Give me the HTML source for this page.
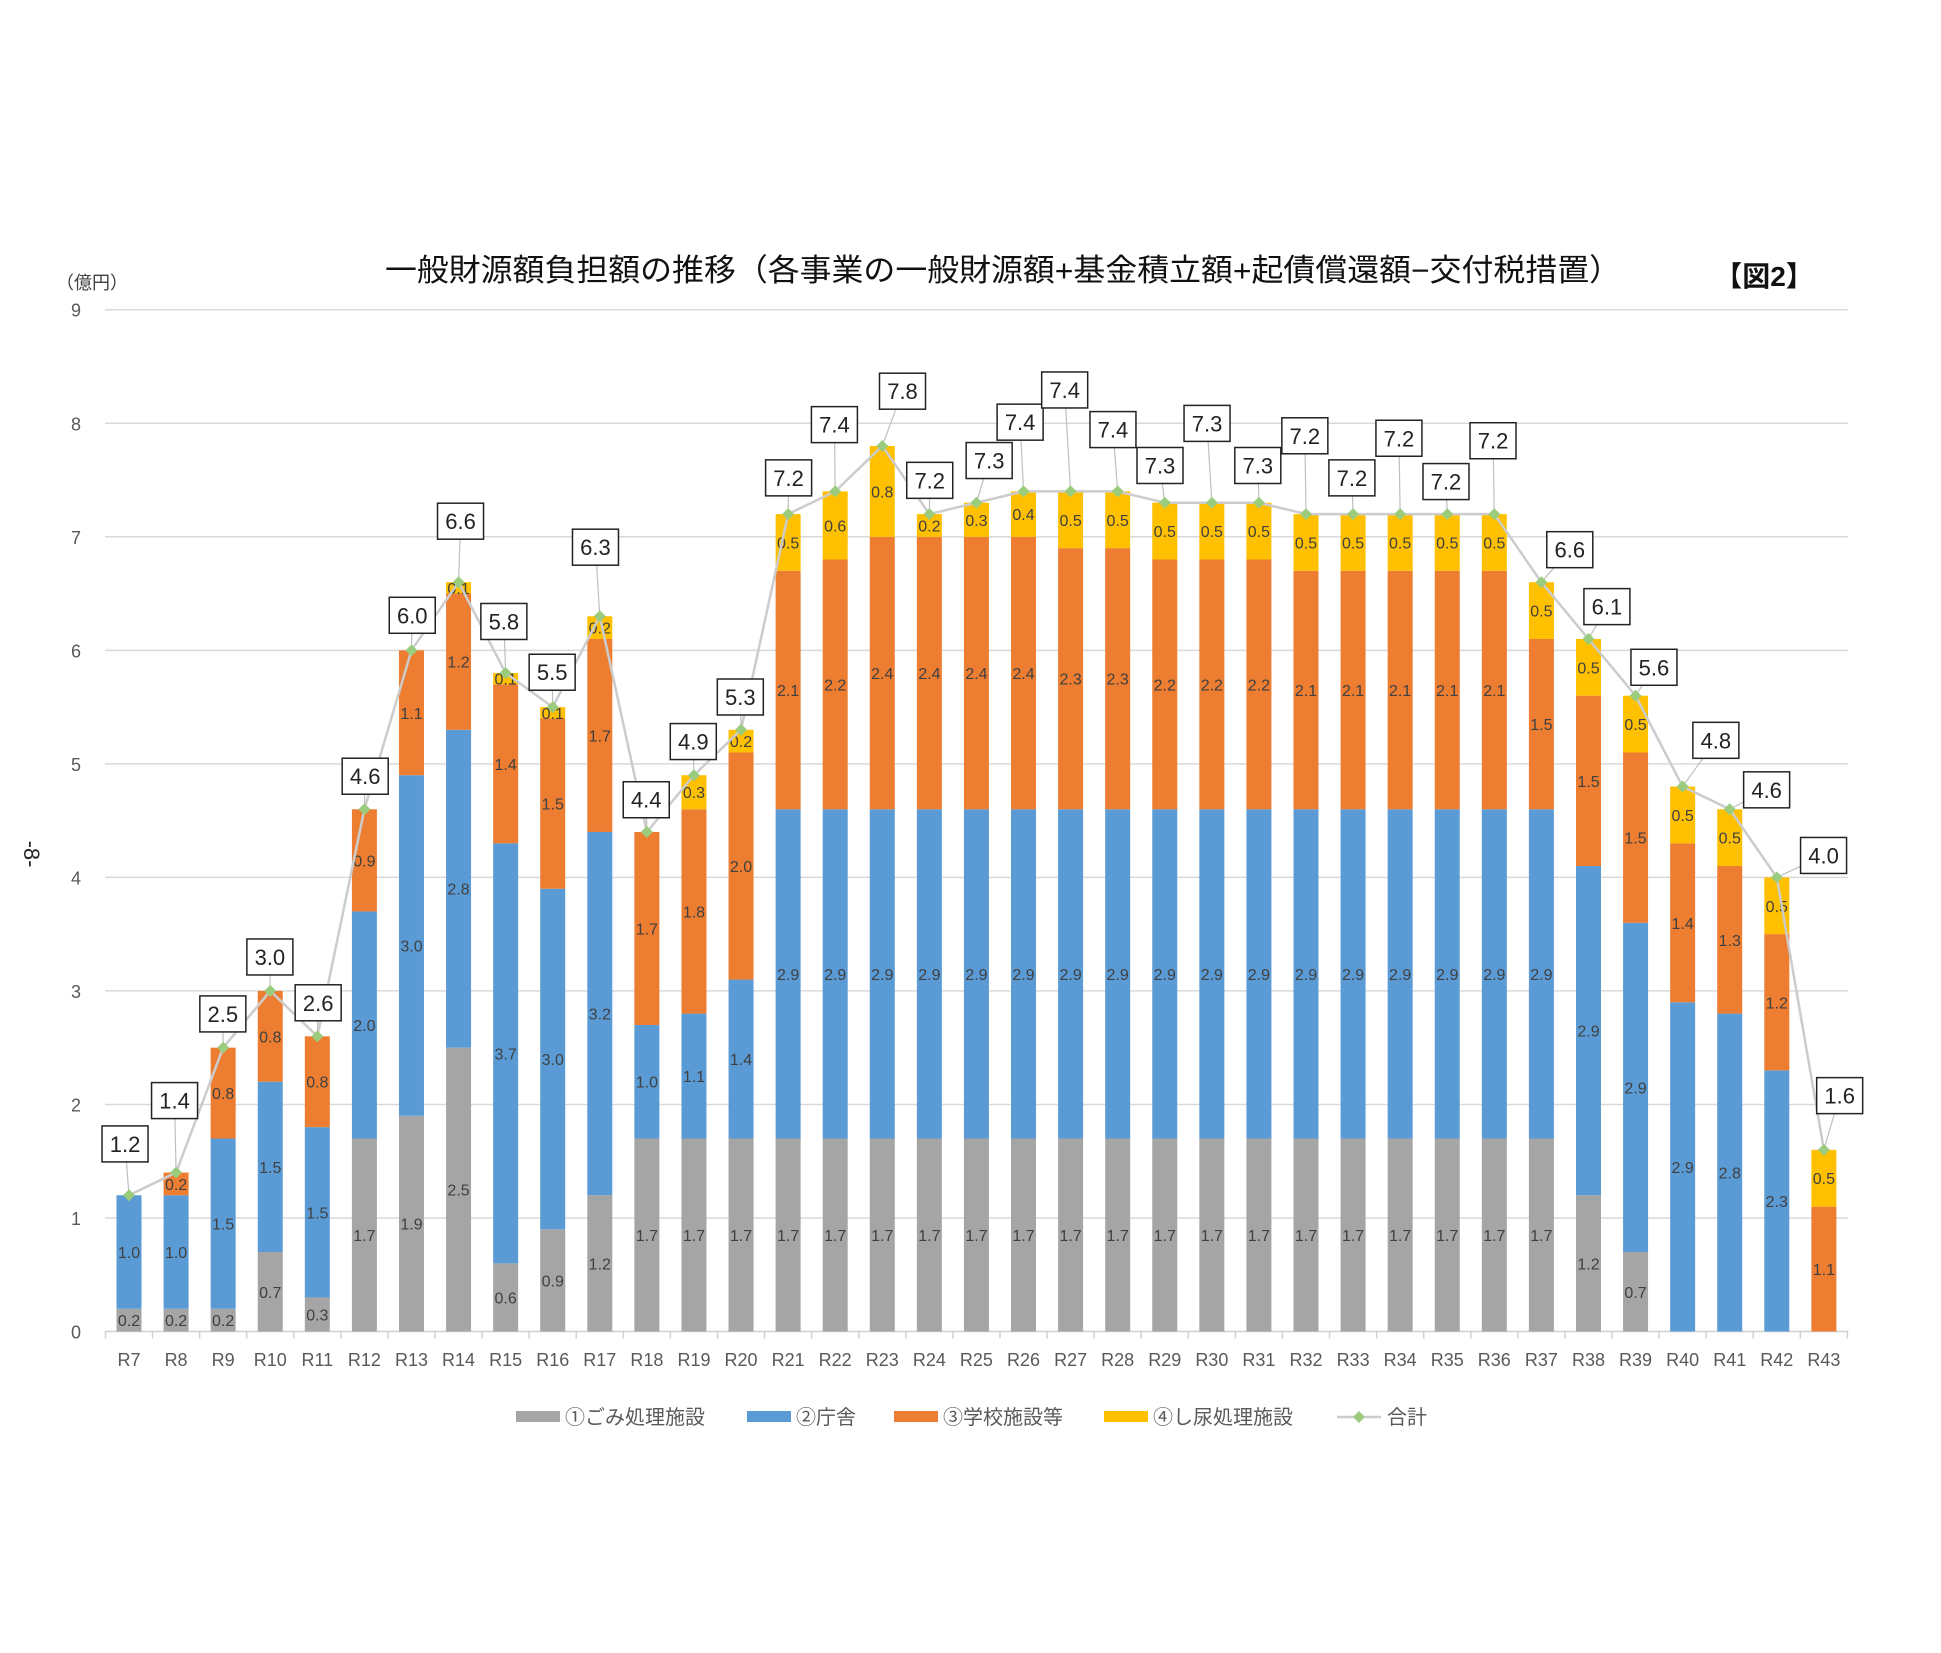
<!DOCTYPE html>
<html><head><meta charset="utf-8"><style>
html,body{margin:0;padding:0;background:#fff}
svg{display:block}
text{font-family:"Liberation Sans","Noto Sans CJK JP",sans-serif}
</style></head><body>
<svg id="c" width="1941" height="1653" xmlns="http://www.w3.org/2000/svg"></svg>
<script>
const S=1.238, B=1331.5, U=113.53, X0=129, DX=47.08, W=25;
const d=[
[.2,1.0,0,0,1.2],[.2,1.0,.2,0,1.4],[.2,1.5,.8,0,2.5],[.7,1.5,.8,0,3.0],[.3,1.5,.8,0,2.6],
[1.7,2.0,.9,0,4.6],[1.9,3.0,1.1,0,6.0],[2.5,2.8,1.2,.1,6.6],[.6,3.7,1.4,.1,5.8],[.9,3.0,1.5,.1,5.5],
[1.2,3.2,1.7,.2,6.3],[1.7,1.0,1.7,0,4.4],[1.7,1.1,1.8,.3,4.9],[1.7,1.4,2.0,.2,5.3],[1.7,2.9,2.1,.5,7.2],
[1.7,2.9,2.2,.6,7.4],[1.7,2.9,2.4,.8,7.8],[1.7,2.9,2.4,.2,7.2],[1.7,2.9,2.4,.3,7.3],[1.7,2.9,2.4,.4,7.4],
[1.7,2.9,2.3,.5,7.4],[1.7,2.9,2.3,.5,7.4],[1.7,2.9,2.2,.5,7.3],[1.7,2.9,2.2,.5,7.3],[1.7,2.9,2.2,.5,7.3],
[1.7,2.9,2.1,.5,7.2],[1.7,2.9,2.1,.5,7.2],[1.7,2.9,2.1,.5,7.2],[1.7,2.9,2.1,.5,7.2],[1.7,2.9,2.1,.5,7.2],
[1.7,2.9,1.5,.5,6.6],[1.2,2.9,1.5,.5,6.1],[.7,2.9,1.5,.5,5.6],[0,2.9,1.4,.5,4.8],[0,2.8,1.3,.5,4.6],
[0,2.3,1.2,.5,4.0],[0,0,1.1,.5,1.6]];
const bx=[[101,924],[141,889],[180,819],[218,773],[257,810],[295,627],[333,497],[372,421],[407,502],[446,543],[481,442],[522,646],[560,599],[598,563],[637,386],[674,343],[729,316],[751,388],[799,372],[824,341],[860,315],[899,347],[937,376],[975,342],[1016,376],[1054,352],[1092,386],[1130,354],[1168,389],[1206,356],[1268,444],[1298,490],[1336,539],[1386,598],[1427,638],[1473,691],[1486,885]];
const col=["#a5a5a5","#5b9bd5","#ed7d31","#ffc000"];
let s='';
for(let i=0;i<=9;i++){const y=B-i*U;
 s+=`<line x1="105" x2="1848" y1="${y}" y2="${y}" stroke="${i?'#d9d9d9':'#d0d0d0'}" stroke-width="1.5"/>`;
 s+=`<text x="81" y="${y+7}" font-size="18" fill="#595959" text-anchor="end">${i}</text>`;}
for(let i=0;i<=37;i++){const x=X0-DX/2+i*DX;s+=`<line x1="${x}" x2="${x}" y1="${B}" y2="${B+7}" stroke="#d0d0d0" stroke-width="1.5"/>`;}
d.forEach((r,i)=>{const cx=X0+i*DX;let cum=0;
 for(let k=0;k<4;k++){const v=r[k];if(v<=0)continue;const y0=B-cum*U,h=v*U;
  s+=`<rect x="${cx-W/2}" y="${y0-h}" width="${W}" height="${h}" fill="${col[k]}"/>`;
  s+=`<text x="${cx}" y="${y0-h/2+6}" font-size="16" fill="#404040" text-anchor="middle">${v.toFixed(1)}</text>`;
  cum+=v;}
 s+=`<text x="${cx}" y="1366" font-size="18" fill="#595959" text-anchor="middle">R${i+7}</text>`;
});
let pts=d.map((r,i)=>`${X0+i*DX},${B-r[4]*U}`).join(' ');
s+=`<polyline points="${pts}" fill="none" stroke="#cccccc" stroke-width="2.5"/>`;
d.forEach((r,i)=>{const px=X0+i*DX,py=B-r[4]*U,bxx=bx[i][0]*S,byy=bx[i][1]*S;
 s+=`<line x1="${px}" y1="${py}" x2="${bxx}" y2="${byy}" stroke="#bfbfbf" stroke-width="1.2"/>`;});
d.forEach((r,i)=>{const px=X0+i*DX,py=B-r[4]*U;
 s+=`<polygon points="${px},${py-6} ${px+6},${py} ${px},${py+6} ${px-6},${py}" fill="#9bcb7c"/>`;});
d.forEach((r,i)=>{const bxx=bx[i][0]*S,byy=bx[i][1]*S;
 s+=`<rect x="${bxx-23}" y="${byy-18}" width="46" height="36" fill="#fff" stroke="#222" stroke-width="1.5"/>`;
 s+=`<text x="${bxx}" y="${byy+8}" font-size="22" fill="#222" text-anchor="middle">${r[4].toFixed(1)}</text>`;});
s+=`<text x="1003" y="281" font-size="31" fill="#111" text-anchor="middle" textLength="1236" lengthAdjust="spacingAndGlyphs">一般財源額負担額の推移（各事業の一般財源額+基金積立額+起債償還額−交付税措置）</text>`;
s+=`<text x="1764" y="286" font-size="28" fill="#111" text-anchor="middle" font-weight="bold">【図2】</text>`;
s+=`<text x="92" y="289" font-size="18" fill="#404040" text-anchor="middle">（億円）</text>`;
s+=`<text x="0" y="0" font-size="22" fill="#222" text-anchor="middle" transform="translate(24,854) rotate(90)">-8-</text>`;
const L=[[516,"#a5a5a5","①ごみ処理施設"],[747,"#5b9bd5","②庁舎"],[894,"#ed7d31","③学校施設等"],[1104,"#ffc000","④し尿処理施設"]];
L.forEach(l=>{s+=`<rect x="${l[0]}" y="1411" width="44" height="11" fill="${l[1]}"/><text x="${l[0]+49}" y="1424" font-size="20" fill="#595959">${l[2]}</text>`;});
s+=`<line x1="1337" x2="1381" y1="1417" y2="1417" stroke="#cccccc" stroke-width="2.5"/><polygon points="1359,1411 1365,1417 1359,1423 1353,1417" fill="#9bcb7c"/><text x="1387" y="1424" font-size="20" fill="#595959">合計</text>`;
document.getElementById('c').innerHTML=s;
</script>
</body></html>
